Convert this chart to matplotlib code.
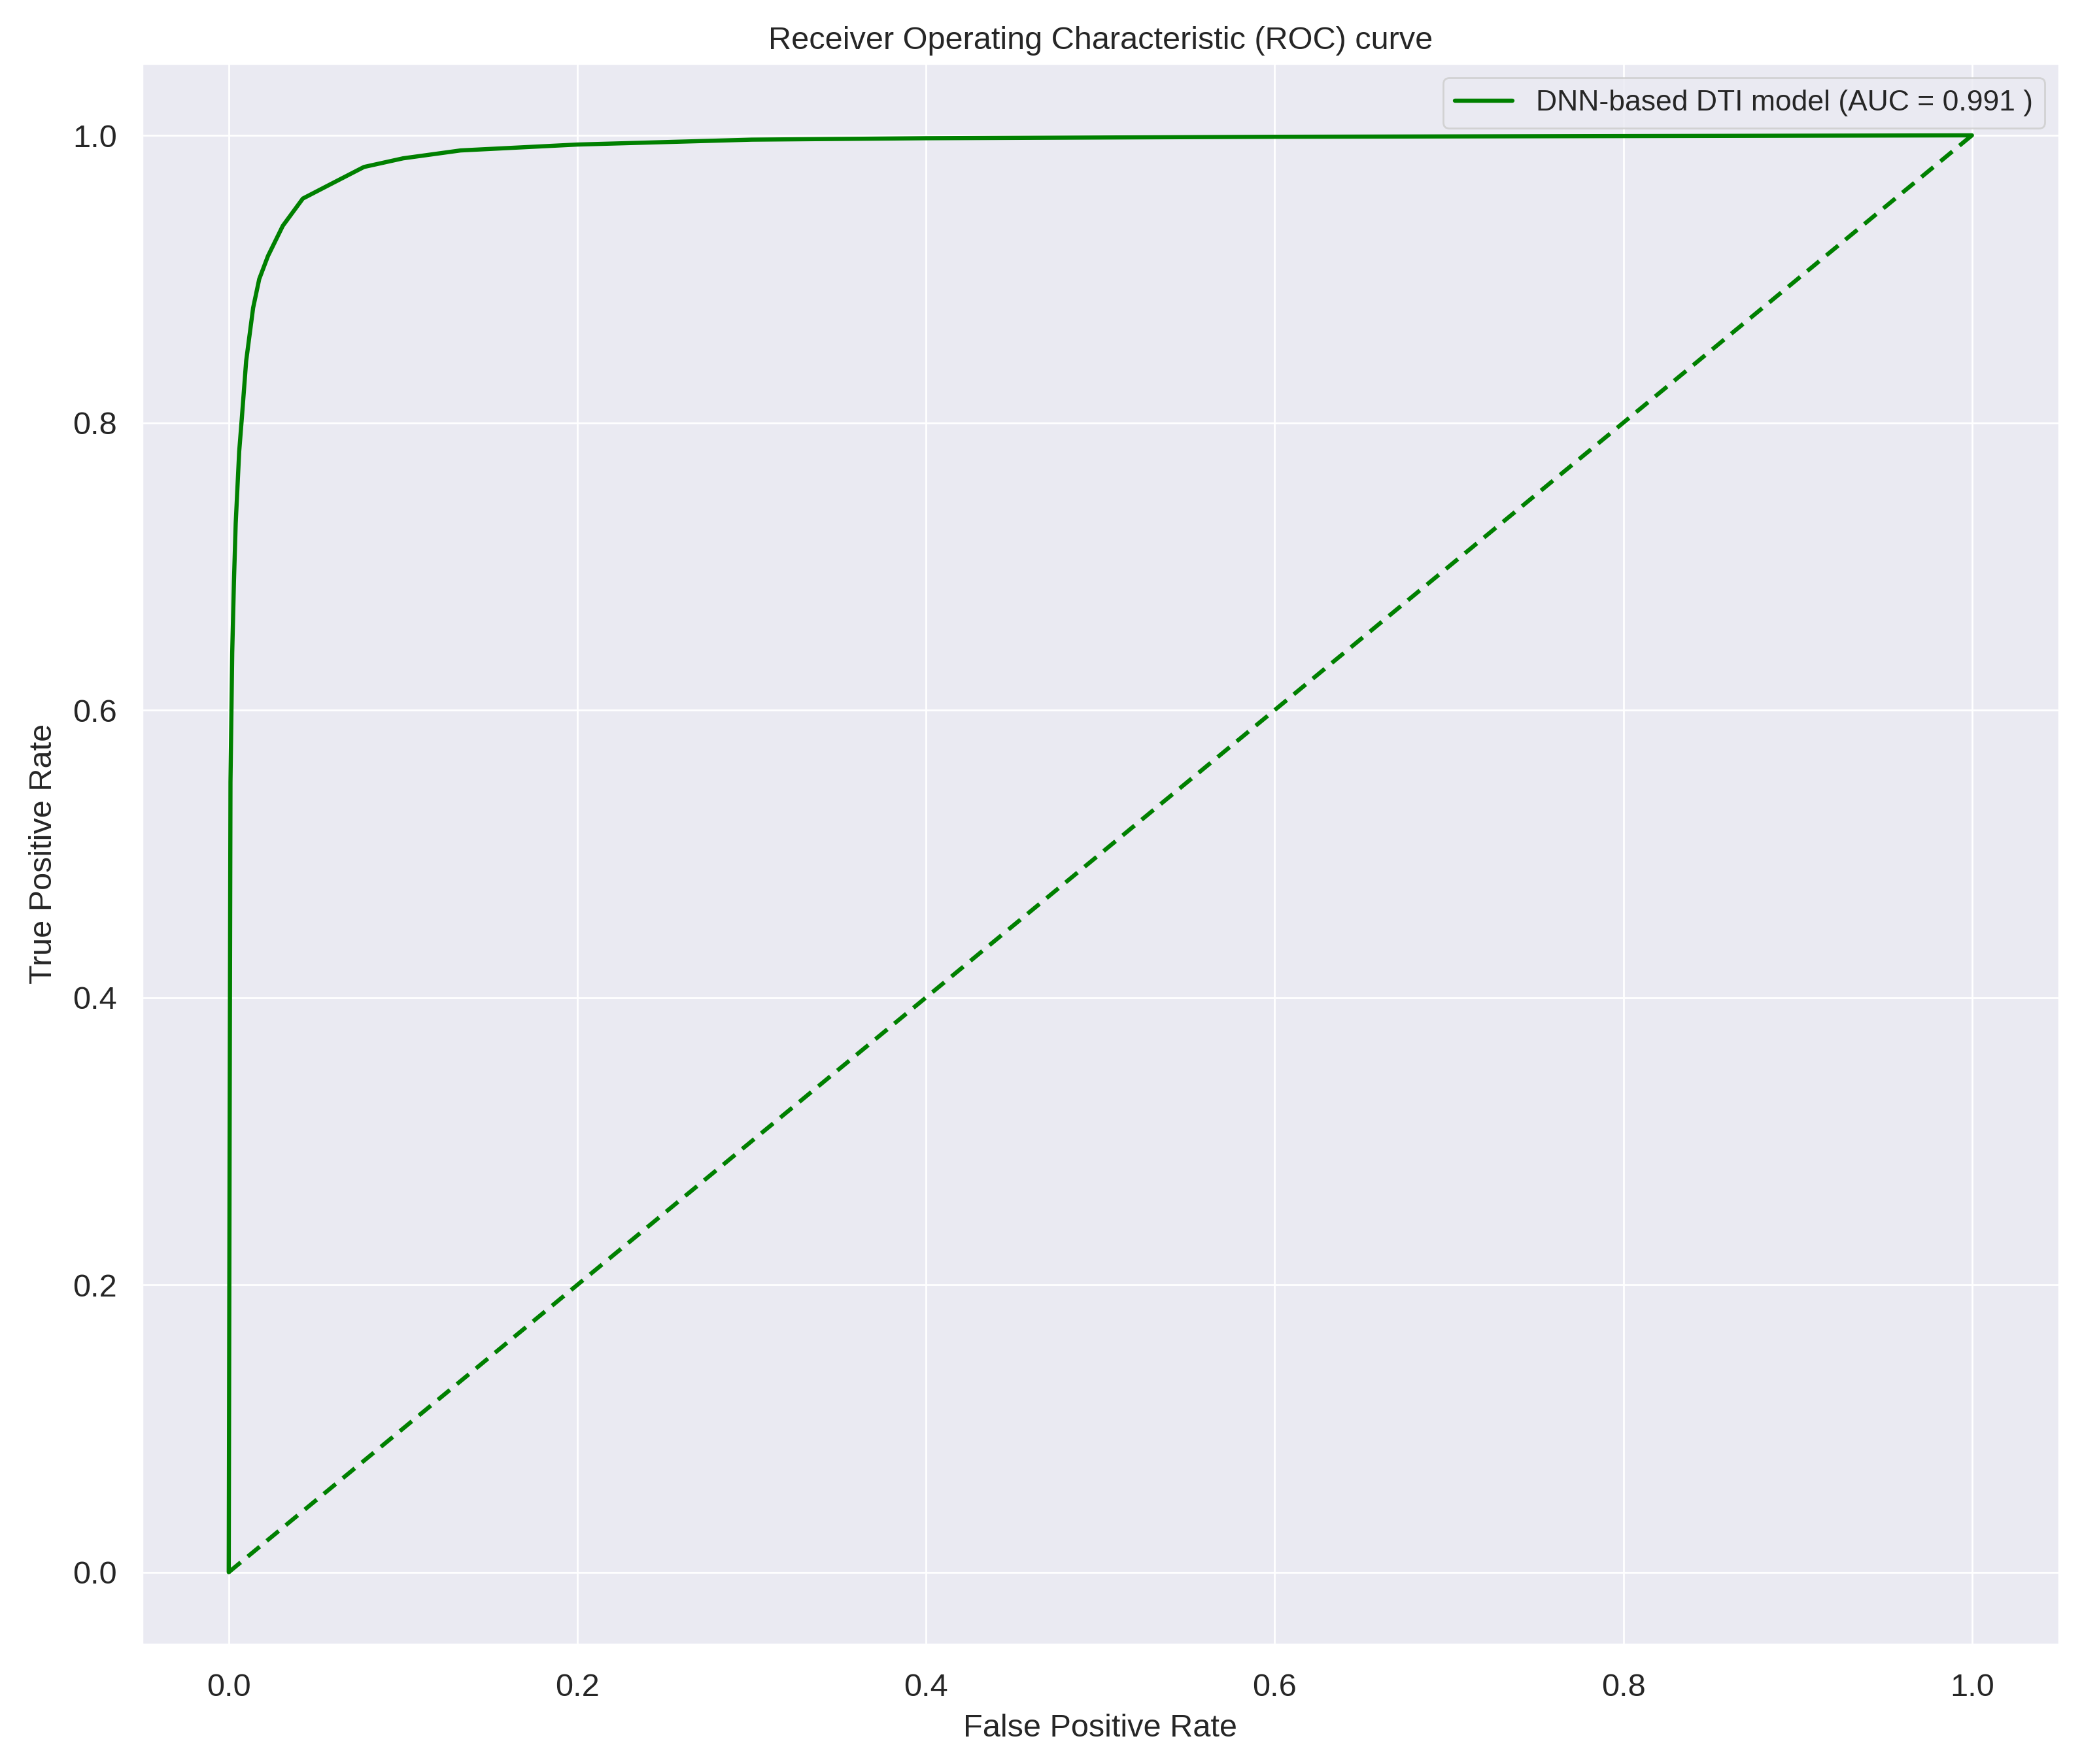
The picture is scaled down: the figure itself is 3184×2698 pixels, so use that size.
import matplotlib
matplotlib.use("Agg")
import matplotlib.pyplot as plt
import seaborn as sns

fpr = [0.0, 0.0005, 0.001, 0.002, 0.003, 0.004, 0.006, 0.0075, 0.010, 0.014,
       0.0175, 0.0225, 0.031, 0.0425, 0.060, 0.0776, 0.10, 0.133, 0.20,
       0.30, 0.40, 0.60, 0.80, 1.0]
tpr = [0.0, 0.30, 0.55, 0.64, 0.69, 0.73, 0.78, 0.803, 0.843, 0.880,
       0.900, 0.916, 0.937, 0.956, 0.967, 0.978, 0.984, 0.9895, 0.9936,
       0.997, 0.998, 0.999, 0.9995, 1.0]
diag = [0.0, 1.0]
auc_label = "DNN-based DTI model (AUC = 0.991 )"

sns.set_theme(style="darkgrid")
plt.rcParams['font.family'] = ['Liberation Sans', 'DejaVu Sans']

fig = plt.figure(figsize=(15.92, 13.49), dpi=200)
ax = fig.add_axes([0.068, 0.068, 0.921, 0.896])

ax.plot(fpr, tpr, color='green', lw=2.3, label=auc_label)
ax.plot(diag, diag, color='green', lw=2.3, linestyle='--', dashes=(3.7, 2.2))

ax.set_title("Receiver Operating Characteristic (ROC) curve", fontsize=17.5, pad=8)
ax.set_xlabel("False Positive Rate", fontsize=17.5, labelpad=6)
ax.set_ylabel("True Positive Rate", fontsize=17.5, labelpad=8)
ax.tick_params(axis='x', labelsize=17.5, pad=10)
ax.tick_params(axis='y', labelsize=17.5, pad=7.5)
ax.legend(loc='upper right', fontsize=16)

fig.savefig("out.png", dpi=200)
